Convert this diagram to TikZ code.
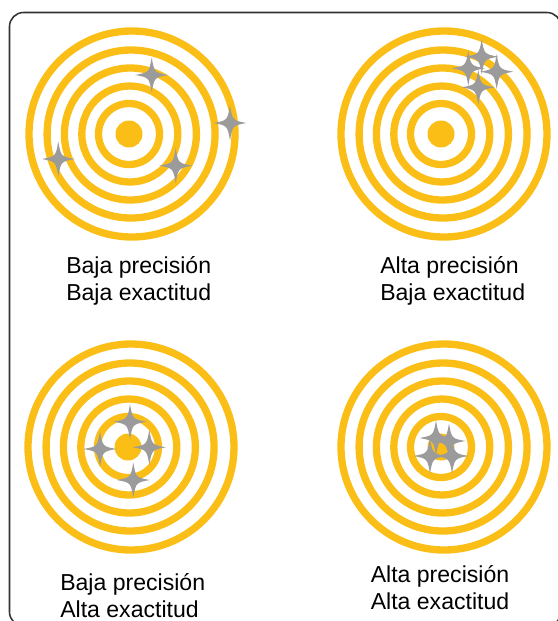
\documentclass[tikz,border=0pt]{standalone}
\usepackage{fontspec}
\setmainfont{Liberation Sans}
\usetikzlibrary{positioning}
\definecolor{ringyellow}{RGB}{250,190,22}
\definecolor{sparkgray}{RGB}{155,155,155}
\tikzstyle{base}=[x=0.025cm, y=-0.025cm]
\tikzstyle{ring}=[draw=ringyellow, line width=0.1825cm]
\tikzstyle{caption}=[anchor=base west, align=left, inner sep=0pt, font=\fontsize{16.4}{19.2}\selectfont]
\tikzset{spark/.pic={
    \fill[sparkgray] (0,-17.5) .. controls (2.6,-2.6) .. (16.5,0) .. controls (2.6,2.6) .. (0,17.5)
        .. controls (-2.6,2.6) .. (-16.5,0) .. controls (-2.6,-2.6) .. cycle;
}}

\begin{document}
\begin{tikzpicture}[base]
        \useasboundingbox (0,0) rectangle (558,621);
        \draw[rounded corners=0.35cm, line width=1.1pt, draw=black!80] (9.5,12.5) rectangle (561,626);
        \foreach \cx/\cy in {129/134, 441/134, 128/447, 441/447} {
            \fill[ringyellow] (\cx,\cy) circle (13.5);
            \foreach \r/\s in {30.5/0, 48/0.8, 66/1.4, 84/2.1, 103/3}
                \draw[ring] (\cx+\s,\cy) circle (\r);
        }
        \foreach \sx/\sy in {151.7/75, 230/123, 58.3/159, 175.7/165.7,
                             481.7/56.7, 468.3/68.3, 496.7/71.7, 478.3/87.3,
                             130/421.7, 100/449, 149.3/447.3, 133.3/480,
                             436/438, 449/441, 430/456, 452/456}
            \pic at (\sx,\sy) {spark};
        \node[caption] (lbl1) at (66,300) {Baja precisión\\Baja exactitud};
        \node[caption] (lbl2) at (380,300) {Alta precisión\\Baja exactitud};
        \node[caption] (lbl3) at (60,617) {Baja precisión\\Alta exactitud};
        \node[caption] (lbl4) at (370.5,609) {Alta precisión\\Alta exactitud};
    \end{tikzpicture}
\end{document}
